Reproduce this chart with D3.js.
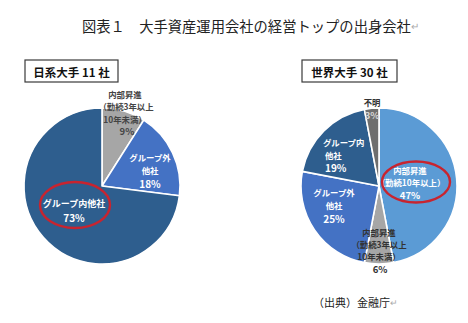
<!DOCTYPE html>
<html>
<head>
<meta charset="utf-8">
<script src="https://cdn.jsdelivr.net/npm/d3@7"></script>
<style>
  html, body { margin: 0; padding: 0; background: #fff; }
  svg { display: block; }
</style>
</head>
<body>
<svg id="chart" width="468" height="323"></svg>
<script>
// ---- Data -------------------------------------------------------------
const titleText = "図表１　大手資産運用会社の経営トップの出身会社";
const sourceText = "（出典）金融庁";

// Japanese majors (11 firms), clockwise from 12 o'clock
const jpTitle = "日系大手 11 社";
const jpCategories = ["内部昇進（勤続3年以上10年未満）", "グループ外他社", "グループ内他社"];
const jpValues = [9, 18, 73];

// Global majors (30 firms), clockwise from 12 o'clock
const wwTitle = "世界大手 30 社";
const wwCategories = ["内部昇進（勤続10年以上）", "内部昇進（勤続3年以上10年未満）", "グループ外他社", "グループ内他社", "不明"];
const wwValues = [47, 6, 25, 19, 3];

// ---- Styling ------------------------------------------------------------
const colorMap = {
  "内部昇進（勤続10年以上）": "#5B9BD5",
  "内部昇進（勤続3年以上10年未満）": "#A6A6A6",
  "グループ外他社": "#4472C4",
  "グループ内他社": "#2E5E8E",
  "不明": "#6E6E6E"
};

const svg = d3.select("#chart");
const FONT = "'Noto Sans CJK JP', 'Noto Sans', sans-serif";

// Title
const title = svg.append("text")
  .attr("x", 82).attr("y", 25)
  .attr("dominant-baseline", "central")
  .attr("font-family", FONT)
  .attr("font-size", 14.3)
  .attr("fill", "#222");
title.append("tspan").text(titleText);
title.append("tspan").attr("fill", "#aaa").attr("font-size", 10).text("↵");

// Source note
const src = svg.append("text")
  .attr("x", 313).attr("y", 302)
  .attr("dominant-baseline", "central")
  .attr("font-family", FONT)
  .attr("font-size", 11)
  .attr("fill", "#222");
src.append("tspan").text(sourceText);
src.append("tspan").attr("fill", "#aaa").attr("font-size", 9).text("↵");

const pie = d3.pie().sort(null).value(d => d.value);
const R = 78;
const arc = d3.arc().innerRadius(0).outerRadius(R);

function drawPie(cfg) {
  const g = svg.append("g").attr("transform", `translate(${cfg.cx},${cfg.cy})`);
  const data = cfg.categories.map((c, i) => ({ category: c, value: cfg.values[i] }));
  const arcs = pie(data);

  g.selectAll("path.slice")
    .data(arcs)
    .join("path")
    .attr("class", "slice")
    .attr("d", arc)
    .attr("fill", d => colorMap[d.data.category])
    .attr("stroke", "#fff")
    .attr("stroke-width", 1.6)
    .attr("stroke-linejoin", "round");

  // Heading box
  const box = svg.append("g");
  box.append("rect")
    .attr("x", cfg.box[0]).attr("y", cfg.box[1])
    .attr("width", cfg.box[2]).attr("height", cfg.box[3])
    .attr("fill", "#fff").attr("stroke", "#3a3a3a").attr("stroke-width", 1.2);
  box.append("text")
    .attr("x", cfg.box[0] + cfg.box[2] / 2).attr("y", cfg.box[1] + cfg.box[3] / 2 + 0.5)
    .attr("text-anchor", "middle").attr("dominant-baseline", "central")
    .attr("font-family", FONT).attr("font-weight", 700).attr("font-size", 11.5)
    .attr("fill", "#111")
    .text(cfg.title);

  // Slice labels: each block carries its lines, anchor and colour
  cfg.labels.forEach(lb => {
    const d = arcs[lb.slice];
    const lines = lb.lines(d.data.value);
    const t = g.append("text")
      .attr("font-family", FONT)
      .attr("font-weight", 600)
      .attr("fill", lb.color)
      .attr("text-anchor", lb.anchor || "middle");
    lines.forEach((ln, i) => {
      t.append("tspan")
        .attr("x", lb.dx[i] !== undefined ? lb.dx[i] : lb.dx[0])
        .attr("y", lb.dy[i])
        .attr("dominant-baseline", "central")
        .attr("font-size", ln.size || 8.4)
        .text(ln.text);
    });
  });

  // Highlight ellipse
  if (cfg.ring) {
    g.append("ellipse")
      .attr("cx", cfg.ring.dx).attr("cy", cfg.ring.dy)
      .attr("rx", cfg.ring.rx).attr("ry", cfg.ring.ry)
      .attr("fill", "none")
      .attr("stroke", "#C8242F")
      .attr("stroke-width", 2.4);
  }
}

drawPie({
  cx: 102, cy: 186,
  title: jpTitle, box: [25, 60, 93, 22],
  categories: jpCategories, values: jpValues,
  labels: [
    { slice: 0, color: "#444", dx: [23, 24, 23, 25], dy: [-92, -80, -67.5, -55],
      lines: v => [{ text: "内部昇進" }, { text: "（勤続3年以上" }, { text: "10年未満）" }, { text: v + "%", size: 9.5 }] },
    { slice: 1, color: "#fff", dx: [48], dy: [-29, -16, -3],
      lines: v => [{ text: "グループ外" }, { text: "他社" }, { text: v + "%", size: 10 }] },
    { slice: 2, color: "#fff", dx: [-28], dy: [17, 31],
      lines: v => [{ text: "グループ内他社", size: 9 }, { text: v + "%", size: 10 }] }
  ],
  ring: { dx: -27, dy: 19, rx: 35, ry: 23 }
});

drawPie({
  cx: 379, cy: 186,
  title: wwTitle, box: [302, 60, 95, 22],
  categories: wwCategories, values: wwValues,
  labels: [
    { slice: 0, color: "#fff", dx: [31, 32, 31], dy: [-16, -4, 8.5],
      lines: v => [{ text: "内部昇進" }, { text: "（勤続10年以上）" }, { text: v + "%", size: 9.5 }] },
    { slice: 1, color: "#333", dx: [0, 0, 0, 1], dy: [46, 58, 70, 82.5],
      lines: v => [{ text: "内部昇進" }, { text: "（勤続3年以上" }, { text: "10年未満）" }, { text: v + "%", size: 9.5 }] },
    { slice: 2, color: "#fff", dx: [-45], dy: [6, 19, 32],
      lines: v => [{ text: "グループ外" }, { text: "他社" }, { text: v + "%", size: 10 }] },
    { slice: 3, color: "#fff", anchor: "start", dx: [-56, -54, -54], dy: [-44, -31.5, -19],
      lines: v => [{ text: "グループ内" }, { text: "他社" }, { text: v + "%", size: 10 }] },
    { slice: 4, color: "#333", dx: [-7], dy: [-84],
      lines: v => [{ text: "不明" }] },
    { slice: 4, color: "#d8d8d8", dx: [-7], dy: [-71],
      lines: v => [{ text: v + "%", size: 9.5 }] }
  ],
  ring: { dx: 37, dy: -4, rx: 34, ry: 20.5 }
});
</script>
</body>
</html>
